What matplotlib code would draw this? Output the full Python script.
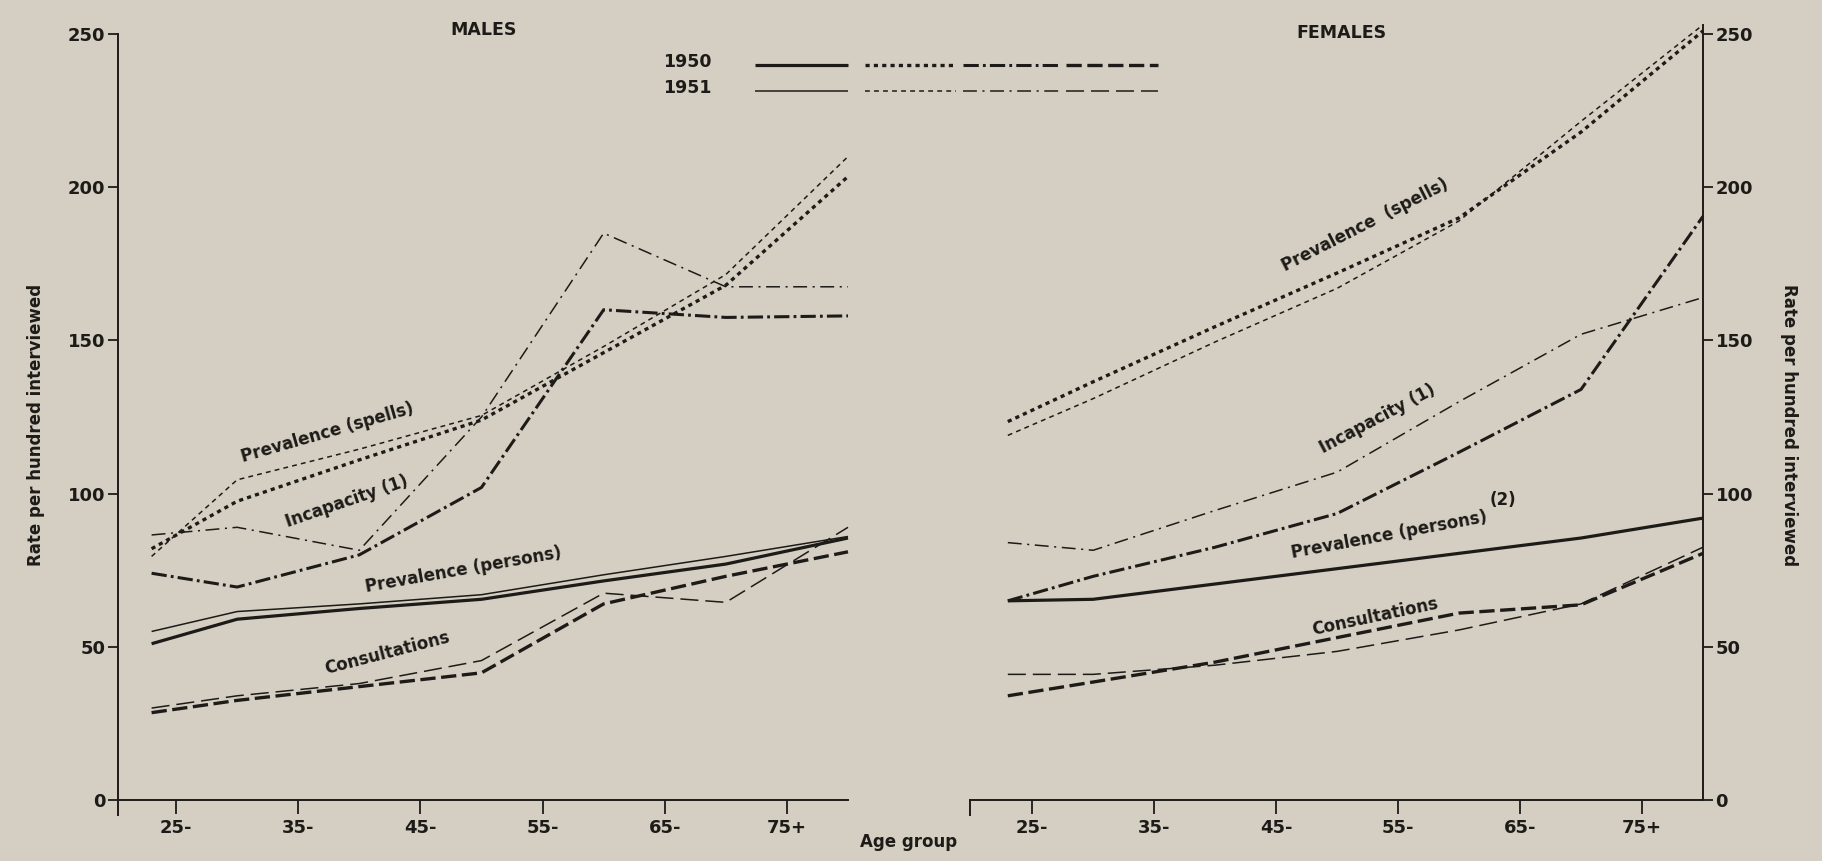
import matplotlib.pyplot as plt

plt.rcParams['lines.scale_dashes'] = False
plt.rcParams['font.family'] = 'DejaVu Sans'
plt.rcParams['font.weight'] = 'bold'

INK = '#1d1b18'
PAPER = '#d5cfc3'

# age group points (x positions) and axis ticks
ages = [23, 30, 40, 50, 60, 70, 80]
age_ticks = [25, 35, 45, 55, 65, 75]
age_labels = ['25-', '35-', '45-', '55-', '65-', '75+']
rate_ticks = [0, 50, 100, 150, 200, 250]

# males, rate per hundred interviewed
persons_1950_m = [51, 59, 62.5, 65.5, 71.5, 77, 85.5]
persons_1951_m = [55, 61.5, 64, 67, 73.5, 79.5, 86]
spells_1950_m = [82, 97.5, 111, 124, 146, 168, 203.5]
spells_1951_m = [79.5, 104.5, 114.5, 125.5, 148, 171.5, 210]
incap_1950_m = [74, 69.5, 80, 102, 160, 157.5, 158]
incap_1951_m = [86.5, 89, 81.5, 125, 185, 167.5, 167.5]
consult_1950_m = [28.5, 32.5, 37, 41.5, 64, 73, 81]
consult_1951_m = [30, 34, 38, 45.5, 67.5, 64.5, 89]

# females
persons_1950_f = [65, 65.5, 70.5, 75.5, 80.5, 85.5, 92]
spells_1950_f = [123.5, 136.5, 154.5, 172, 190, 218, 251]
spells_1951_f = [119, 131, 149.5, 167, 189, 221.5, 253]
incap_1950_f = [65, 73, 82.5, 93.5, 113.5, 134, 190.5]
incap_1951_f = [84, 81.5, 94.5, 107, 130, 152, 164]
consult_1950_f = [34, 38.5, 45, 53, 61, 63.7, 80.5]
consult_1951_f = [41, 41, 44, 48.5, 55.5, 64, 82.5]

# line look per measure and year: (dash pattern, width)
STYLES = {
    ('persons', 1950): ('solid', 2.3),
    ('persons', 1951): ('solid', 1.1),
    ('spells', 1950): ((0, (3, 3)), 2.4),
    ('spells', 1951): ((0, (3.5, 3)), 1.1),
    ('incap', 1950): ((0, (11, 3, 2, 3)), 2.2),
    ('incap', 1951): ((0, (10, 4, 1.5, 4)), 1.1),
    ('consult', 1950): ((0, (11, 4)), 2.4),
    ('consult', 1951): ((0, (13, 5)), 1.1),
}


def draw_line(ax, x, y, kind, year):
    ls, lw = STYLES[(kind, year)]
    ax.plot(x, y, color=INK, linestyle=ls, lw=lw, clip_on=False,
            solid_capstyle='butt', dash_capstyle='butt',
            solid_joinstyle='round', dash_joinstyle='round')


def setup_axes(ax, xmin):
    ax.set_facecolor('none')
    ax.set_xlim(xmin, 80)
    ax.set_ylim(-5, 255)
    ax.spines['top'].set_visible(False)
    ax.spines['bottom'].set_position(('data', 0))
    for sp in ax.spines.values():
        sp.set_linewidth(1.4)
        sp.set_color(INK)
    ax.set_xticks(age_ticks)
    ax.set_xticklabels(age_labels)
    ax.set_yticks(rate_ticks)
    ax.tick_params(axis='x', direction='out', length=10, width=1.3,
                   pad=4, colors=INK, labelsize=13)
    ax.tick_params(axis='y', direction='out', length=7, width=1.3,
                   pad=2, colors=INK, labelsize=13)


fig = plt.figure(figsize=(18.22, 8.61), dpi=100)
fig.patch.set_facecolor(PAPER)

W, H = 1822.0, 861.0
bottom = (H - 815.3) / H
height = (815.3 - 18.7) / H

# MALES
axm = fig.add_axes([118 / W, bottom, (848 - 118) / W, height])
setup_axes(axm, 20.25)
axm.spines['right'].set_visible(False)
axm.spines['left'].set_bounds(-5, 250)

draw_line(axm, ages, persons_1950_m, 'persons', 1950)
draw_line(axm, ages, persons_1951_m, 'persons', 1951)
draw_line(axm, ages, spells_1950_m, 'spells', 1950)
draw_line(axm, ages, spells_1951_m, 'spells', 1951)
draw_line(axm, ages, incap_1950_m, 'incap', 1950)
draw_line(axm, ages, incap_1951_m, 'incap', 1951)
draw_line(axm, ages, consult_1950_m, 'consult', 1950)
draw_line(axm, ages, consult_1951_m, 'consult', 1951)

lab_kw = dict(color=INK, fontsize=12, ha='center',
              va='center', rotation_mode='anchor')
axm.text(37.4, 119.8, 'Prevalence (spells)', rotation=16, **lab_kw)
axm.text(39.0, 97.5, 'Incapacity (1)', rotation=19, **lab_kw)
axm.text(48.5, 75.1, 'Prevalence (persons)', rotation=10, **lab_kw)
axm.text(42.3, 48.0, 'Consultations', rotation=14.5, **lab_kw)

# FEMALES
axf = fig.add_axes([970 / W, bottom, (1703 - 970) / W, height])
setup_axes(axf, 19.9)
axf.yaxis.tick_right()
axf.spines['left'].set_bounds(-5, 0)
axf.spines['right'].set_bounds(0, 253)

draw_line(axf, ages, persons_1950_f, 'persons', 1950)
draw_line(axf, ages, spells_1950_f, 'spells', 1950)
draw_line(axf, ages, spells_1951_f, 'spells', 1951)
draw_line(axf, ages, incap_1950_f, 'incap', 1950)
draw_line(axf, ages, incap_1951_f, 'incap', 1951)
draw_line(axf, ages, consult_1950_f, 'consult', 1950)
draw_line(axf, ages, consult_1951_f, 'consult', 1951)

axf.text(52.3, 187.5, 'Prevalence  (spells)', rotation=27, **lab_kw)
axf.text(53.3, 124.3, 'Incapacity (1)', rotation=28, **lab_kw)
axf.text(63.6, 97.9, '(2)', rotation=0, **lab_kw)
axf.text(54.3, 86.5, 'Prevalence (persons)', rotation=10.5, **lab_kw)
axf.text(53.1, 59.7, 'Consultations', rotation=12, **lab_kw)

# titles and axis captions
txt_kw = dict(color=INK, ha='center', va='center')
fig.text(484 / W, 1 - 30 / H, 'MALES', fontsize=12.5, **txt_kw)
fig.text(1341 / W, 1 - 33 / H, 'FEMALES', fontsize=12.5, **txt_kw)
fig.text(909 / W, 1 - 842 / H, 'Age group', fontsize=12, **txt_kw)
fig.text(36 / W, 1 - 425 / H, 'Rate per hundred interviewed',
         rotation=90, fontsize=12, **txt_kw)
fig.text(1789 / W, 1 - 425 / H, 'Rate per hundred interviewed',
         rotation=270, fontsize=12, **txt_kw)

# key: one row per year, four line samples each
key = fig.add_axes([0, 0, 1, 1])
key.set_xlim(0, W)
key.set_ylim(H, 0)
key.axis('off')
key.patch.set_visible(False)
segments = [('persons', 755, 848), ('spells', 865, 956),
            ('incap', 963, 1060), ('consult', 1066, 1158)]
for year, ty, ly in [(1950, 62, 65), (1951, 88, 91)]:
    key.text(663, ty, str(year), fontsize=12.5, color=INK,
             ha='left', va='center')
    for kind, x0, x1 in segments:
        draw_line(key, [x0, x1], [ly, ly], kind, year)

fig.savefig('out.png', dpi=100, facecolor=PAPER)
